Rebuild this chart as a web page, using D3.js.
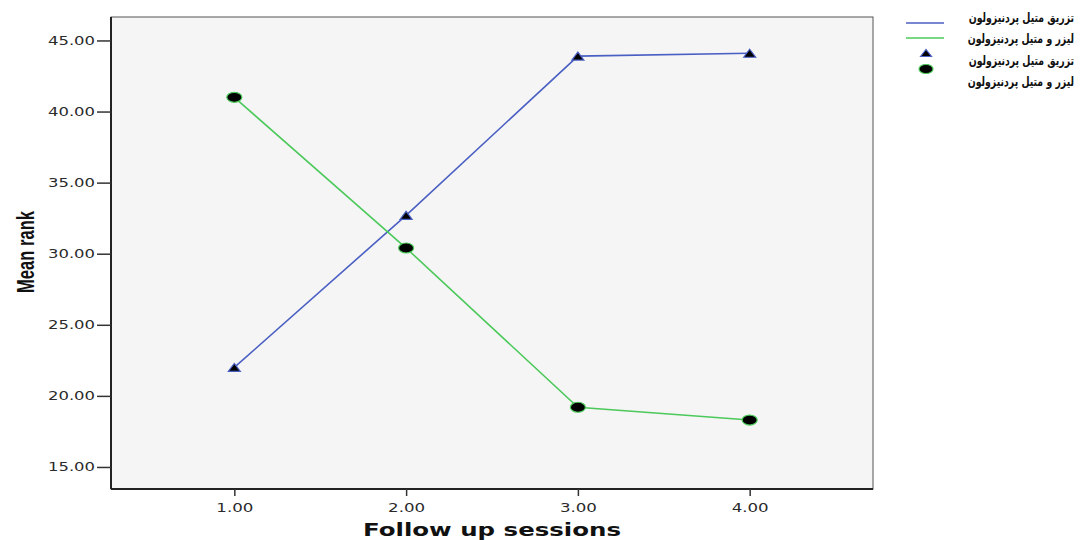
<!DOCTYPE html>
<html>
<head>
<meta charset="utf-8">
<script src="https://cdn.jsdelivr.net/npm/d3@7"></script>
<style>
  html, body { margin: 0; padding: 0; background: #ffffff; }
  svg { display: block; }
</style>
</head>
<body>
<svg id="chart" width="1087" height="540"></svg>
<script>
// ---- data ----
const sessions = [1, 2, 3, 4];
const injectionValues = [22.0, 32.7, 43.9, 44.1];   // تزریق متیل پردنیزولون
const laserValues = [41.0, 30.4, 19.2, 18.3];       // لیزر و متیل پردنیزولون
const yTicks = [15, 20, 25, 30, 35, 40, 45];
const xTicks = [1, 2, 3, 4];
const seriesNames = ["تزریق متیل پردنیزولون", "لیزر و متیل پردنیزولون"];
const xTitle = "Follow up sessions";
const yTitle = "Mean rank";

const svg = d3.select("#chart");
const frame = { left: 111, top: 17, right: 873, bottom: 489 };

const x = d3.scaleLinear().domain([0.282, 4.718]).range([frame.left, frame.right]);
const y = d3.scaleLinear().domain([13.45, 46.65]).range([frame.bottom, frame.top]);

// plot background
svg.append("rect")
  .attr("x", frame.left).attr("y", frame.top)
  .attr("width", frame.right - frame.left).attr("height", frame.bottom - frame.top)
  .attr("fill", "#f5f5f5").attr("stroke", "#555").attr("stroke-width", 1);

// axes
const yAxis = d3.axisLeft(y).tickValues(yTicks).tickFormat(d3.format(".2f")).tickSize(14).tickPadding(2);
const xAxis = d3.axisBottom(x).tickValues(xTicks).tickFormat(d3.format(".2f")).tickSize(7).tickPadding(7);

const gy = svg.append("g").attr("transform", `translate(${frame.left},0)`).call(yAxis);
const gx = svg.append("g").attr("transform", `translate(0,${frame.bottom})`).call(xAxis);
[gx, gy].forEach(g => {
  g.select(".domain").attr("stroke", "#222").attr("stroke-width", 2);
  g.selectAll(".tick line").attr("stroke", "#333").attr("stroke-width", 1.5);
  g.selectAll(".tick text")
    .attr("fill", "#2a2a2a")
    .attr("lengthAdjust", "spacingAndGlyphs")
    .style("font-family", "'DejaVu Sans', Verdana, sans-serif")
    .style("font-size", "12px");
});
gy.selectAll(".tick text").attr("textLength", 47);
gx.selectAll(".tick text").attr("textLength", 37);
gx.select(".domain").attr("d", `M${frame.left},0H${frame.right}`);
gy.select(".domain").attr("d", `M0,${frame.top}V${frame.bottom}`);

// lines
const line = d3.line().x((d, i) => x(sessions[i])).y(d => y(d));
const blue = "#4a5fc3", green = "#4cc95a";
svg.append("path").datum(injectionValues).attr("d", line)
  .attr("fill", "none").attr("stroke", blue).attr("stroke-width", 1.6);
svg.append("path").datum(laserValues).attr("d", line)
  .attr("fill", "none").attr("stroke", green).attr("stroke-width", 1.6);

// markers
const tri = (cx, cy, w, h) => `M${cx - w / 2},${cy + h / 2}L${cx},${cy - h / 2}L${cx + w / 2},${cy + h / 2}Z`;
svg.selectAll(".tri").data(injectionValues).enter().append("path")
  .attr("d", (d, i) => tri(x(sessions[i]), y(d), 12, 8))
  .attr("fill", "#000").attr("stroke", blue).attr("stroke-width", 1.2);
svg.selectAll(".circ").data(laserValues).enter().append("ellipse")
  .attr("cx", (d, i) => x(sessions[i])).attr("cy", d => y(d))
  .attr("rx", 7.5).attr("ry", 5)
  .attr("fill", "#000").attr("stroke", green).attr("stroke-width", 1.2);

// axis titles
svg.append("text")
  .attr("x", 492).attr("y", 536)
  .attr("text-anchor", "middle")
  .attr("textLength", 258).attr("lengthAdjust", "spacingAndGlyphs")
  .style("font-family", "'DejaVu Sans', Verdana, sans-serif")
  .style("font-weight", "bold").style("font-size", "17px")
  .attr("fill", "#111")
  .text(xTitle);

svg.append("text")
  .attr("transform", `translate(34,252) rotate(-90)`)
  .attr("text-anchor", "middle")
  .attr("textLength", 82).attr("lengthAdjust", "spacingAndGlyphs")
  .style("font-family", "'Liberation Sans', Arial, sans-serif")
  .style("font-weight", "bold").style("font-size", "23px")
  .attr("fill", "#111")
  .text(yTitle);

// legend
const legX1 = 906, legX2 = 944, legMid = 926, textRight = 1074;
const legRowsY = [17, 38, 60, 81];
svg.append("line").attr("x1", legX1).attr("x2", legX2).attr("y1", 23).attr("y2", 23)
  .attr("stroke", blue).attr("stroke-width", 1.5);
svg.append("line").attr("x1", legX1).attr("x2", legX2).attr("y1", 38).attr("y2", 38)
  .attr("stroke", green).attr("stroke-width", 1.5);
svg.append("path").attr("d", tri(legMid, 53, 11, 7))
  .attr("fill", "#000").attr("stroke", blue).attr("stroke-width", 1.2);
svg.append("ellipse").attr("cx", legMid).attr("cy", 69).attr("rx", 7).attr("ry", 4.5)
  .attr("fill", "#000").attr("stroke", green).attr("stroke-width", 1.2);

const legendLabels = [seriesNames[0], seriesNames[1], seriesNames[0], seriesNames[1]];
svg.selectAll(".legtext").data(legendLabels).enter().append("text")
  .attr("transform", (d, i) => `translate(${textRight},${legRowsY[i] + 5}) scale(0.72,1)`)
  .attr("text-anchor", "end")
  .style("font-family", "'DejaVu Sans', sans-serif")
  .style("font-weight", "bold").style("font-size", "13px")
  .attr("fill", "#111")
  .text(d => d);
</script>
</body>
</html>
